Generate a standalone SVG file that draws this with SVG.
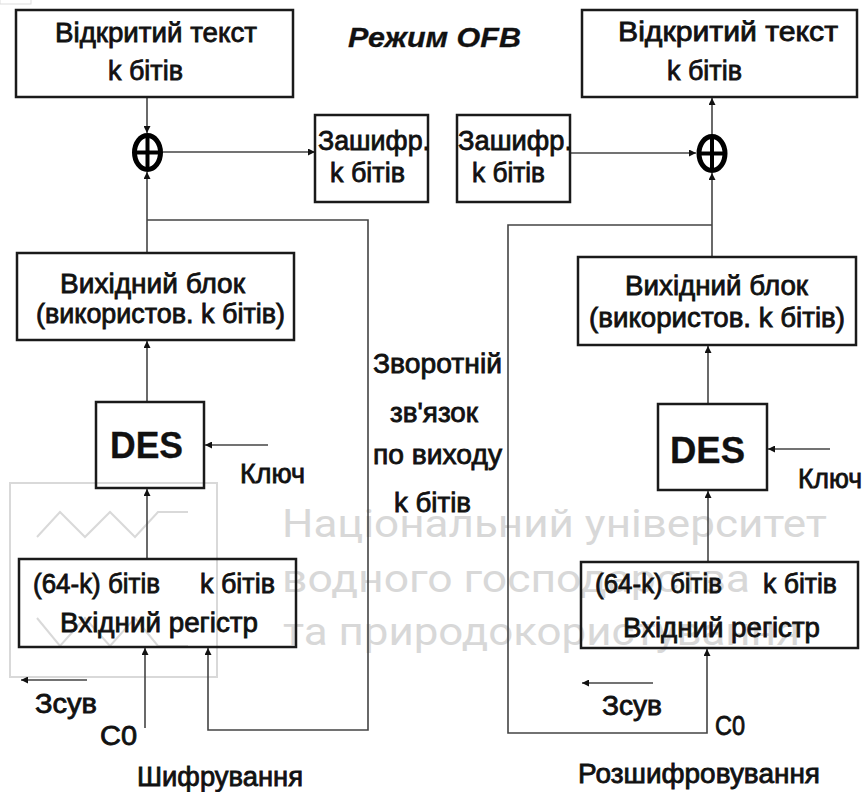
<svg xmlns="http://www.w3.org/2000/svg" width="867" height="792" viewBox="0 0 867 792">
<style>
.box{fill:none;stroke:#1a1a1a;stroke-width:2.5}
.ln{fill:none;stroke:#444;stroke-width:1.6}
.t{font-family:"Liberation Sans",Arial,sans-serif;font-size:27px;fill:#111;stroke:#111;stroke-width:0.8}
.des{font-size:37px;font-weight:bold;stroke-width:0.3}
.ttl{font-style:italic;font-weight:bold;font-size:27px;stroke-width:0.3}
.wm{font-family:Roboto,"Liberation Sans",sans-serif;font-size:38px;fill:#d8d8d8}
.wml{fill:none;stroke:#d9d9d9;stroke-width:2}
.xor{fill:none;stroke:#000;stroke-width:5}
.xc{stroke:#000;stroke-width:4}
</style>
<defs>
<marker id="ah" viewBox="0 0 10 10" refX="10" refY="5" markerWidth="7" markerHeight="7" orient="auto" markerUnits="userSpaceOnUse">
<path d="M0,0 L10,5 L0,10 z" fill="#111"/>
</marker>
</defs>
<rect width="867" height="792" fill="#fff"/>
<rect x="0" y="-1" width="31" height="5" fill="none" stroke="#ddd" stroke-width="1"/>

<g id="watermark">
<rect x="10" y="483" width="207" height="194" class="wml"/>
<polyline class="wml" points="37,537 60,512 85,537 110,512 135,537 158,512 188,512"/>
<polyline class="wml" points="37,618 60,646 85,618 110,646 135,618 158,646 188,646"/>
<text class="wm" x="282" y="537" textLength="545" lengthAdjust="spacingAndGlyphs">Національний університет</text>
<text class="wm" x="282" y="592" textLength="468" lengthAdjust="spacingAndGlyphs">водного господарства</text>
<text class="wm" x="283" y="645" textLength="517" lengthAdjust="spacingAndGlyphs">та природокористування</text>
</g>

<text class="t ttl" x="348" y="47" textLength="173" lengthAdjust="spacingAndGlyphs">Режим OFB</text>

<g id="connectors">
<line class="ln" x1="147" y1="97" x2="147" y2="133" marker-end="url(#ah)"/>
<line class="ln" x1="147" y1="253" x2="147" y2="172" marker-end="url(#ah)"/>
<line class="ln" x1="163" y1="152" x2="315" y2="152" marker-end="url(#ah)"/>
<line class="ln" x1="147" y1="402" x2="147" y2="341" marker-end="url(#ah)"/>
<line class="ln" x1="147" y1="559" x2="147" y2="489" marker-end="url(#ah)"/>
<line class="ln" x1="268" y1="445" x2="205" y2="445" marker-end="url(#ah)"/>
<line class="ln" x1="145" y1="728" x2="145" y2="648" marker-end="url(#ah)"/>
<polyline class="ln" points="147,220 368,220 368,730 208,730 208,648" marker-end="url(#ah)"/>
<line class="ln" x1="87" y1="680" x2="21" y2="680" marker-end="url(#ah)"/>
<line class="ln" x1="712" y1="135" x2="712" y2="98" marker-end="url(#ah)"/>
<line class="ln" x1="712" y1="257" x2="712" y2="173" marker-end="url(#ah)"/>
<line class="ln" x1="570" y1="153" x2="696" y2="153" marker-end="url(#ah)"/>
<line class="ln" x1="708" y1="404" x2="708" y2="346" marker-end="url(#ah)"/>
<line class="ln" x1="708" y1="562" x2="708" y2="491" marker-end="url(#ah)"/>
<line class="ln" x1="830" y1="449" x2="768" y2="449" marker-end="url(#ah)"/>
<polyline class="ln" points="712,225 508,225 508,733 707,733 707,649" marker-end="url(#ah)"/>
<line class="ln" x1="653" y1="683" x2="582" y2="683" marker-end="url(#ah)"/>
</g>

<g id="xor-enc">
<ellipse class="xor" cx="147.5" cy="152.5" rx="13" ry="17"/>
<line class="xc" x1="147.5" y1="136" x2="147.5" y2="169"/>
<line class="xc" x1="135" y1="152.5" x2="160" y2="152.5"/>
</g>
<g id="xor-dec">
<ellipse class="xor" cx="712" cy="153.5" rx="13" ry="17"/>
<line class="xc" x1="712" y1="137" x2="712" y2="170"/>
<line class="xc" x1="699.5" y1="153.5" x2="724.5" y2="153.5"/>
</g>

<g id="plain-enc">
<rect class="box" x="16" y="10" width="277" height="87"/>
<text class="t" x="55" y="42" textLength="202" lengthAdjust="spacingAndGlyphs">Відкритий текст</text>
<text class="t" x="108" y="80" textLength="75" lengthAdjust="spacingAndGlyphs">k бітів</text>
</g>
<g id="cipher-enc">
<rect class="box" x="315" y="115" width="113" height="87"/>
<text class="t" x="318" y="150" textLength="112" lengthAdjust="spacingAndGlyphs">Зашифр.</text>
<text class="t" x="330" y="182" textLength="75" lengthAdjust="spacingAndGlyphs">k бітів</text>
</g>
<g id="out-enc">
<rect class="box" x="17" y="253" width="277" height="87"/>
<text class="t" x="60" y="293" textLength="185" lengthAdjust="spacingAndGlyphs">Вихідний блок</text>
<text class="t" x="36" y="323" textLength="249" lengthAdjust="spacingAndGlyphs">(використов. k бітів)</text>
</g>
<g id="des-enc">
<rect class="box" x="96" y="402" width="108" height="86"/>
<text class="t des" x="110" y="458" textLength="73" lengthAdjust="spacingAndGlyphs">DES</text>
</g>
<g id="key-enc"><text class="t" x="240" y="483" textLength="65" lengthAdjust="spacingAndGlyphs">Ключ</text></g>
<g id="reg-enc">
<rect class="box" x="19" y="559" width="277" height="88"/>
<text class="t" x="33" y="593" textLength="127" lengthAdjust="spacingAndGlyphs">(64-k) бітів</text>
<text class="t" x="200" y="593" textLength="75" lengthAdjust="spacingAndGlyphs">k бітів</text>
<text class="t" x="60" y="632" textLength="198" lengthAdjust="spacingAndGlyphs">Вхідний регістр</text>
</g>
<g id="labels-enc">
<text class="t" x="35" y="713" textLength="62" lengthAdjust="spacingAndGlyphs">Зсув</text>
<text class="t" x="100" y="745" textLength="37" lengthAdjust="spacingAndGlyphs">C0</text>
<text class="t" x="137" y="786" textLength="166" lengthAdjust="spacingAndGlyphs">Шифрування</text>
</g>

<g id="feedback-label">
<text class="t" x="373" y="373" textLength="129" lengthAdjust="spacingAndGlyphs">Зворотній</text>
<text class="t" x="390" y="422" textLength="88" lengthAdjust="spacingAndGlyphs">зв'язок</text>
<text class="t" x="373" y="464" textLength="129" lengthAdjust="spacingAndGlyphs">по виходу</text>
<text class="t" x="394" y="512" textLength="77" lengthAdjust="spacingAndGlyphs">k бітів</text>
</g>

<g id="plain-dec">
<rect class="box" x="582" y="10" width="275" height="87"/>
<text class="t" x="618" y="41" textLength="220" lengthAdjust="spacingAndGlyphs">Відкритий текст</text>
<text class="t" x="667" y="80" textLength="75" lengthAdjust="spacingAndGlyphs">k бітів</text>
</g>
<g id="cipher-dec">
<rect class="box" x="457" y="115" width="113" height="87"/>
<text class="t" x="458" y="150" textLength="114" lengthAdjust="spacingAndGlyphs">Зашифр.</text>
<text class="t" x="472" y="182" textLength="73" lengthAdjust="spacingAndGlyphs">k бітів</text>
</g>
<g id="out-dec">
<rect class="box" x="578" y="257" width="278" height="88"/>
<text class="t" x="625" y="295" textLength="183" lengthAdjust="spacingAndGlyphs">Вихідний блок</text>
<text class="t" x="589" y="327" textLength="256" lengthAdjust="spacingAndGlyphs">(використов. k бітів)</text>
</g>
<g id="des-dec">
<rect class="box" x="658" y="404" width="109" height="86"/>
<text class="t des" x="670" y="463" textLength="75" lengthAdjust="spacingAndGlyphs">DES</text>
</g>
<g id="key-dec"><text class="t" x="798" y="488" textLength="64" lengthAdjust="spacingAndGlyphs">Ключ</text></g>
<g id="reg-dec">
<rect class="box" x="581" y="562" width="277" height="86"/>
<text class="t" x="595" y="593" textLength="127" lengthAdjust="spacingAndGlyphs">(64-k) бітів</text>
<text class="t" x="763" y="593" textLength="74" lengthAdjust="spacingAndGlyphs">k бітів</text>
<text class="t" x="623" y="637" textLength="197" lengthAdjust="spacingAndGlyphs">Вхідний регістр</text>
</g>
<g id="labels-dec">
<text class="t" x="602" y="715" textLength="60" lengthAdjust="spacingAndGlyphs">Зсув</text>
<text class="t" x="715" y="735" textLength="30" lengthAdjust="spacingAndGlyphs">C0</text>
<text class="t" x="578" y="783" textLength="242" lengthAdjust="spacingAndGlyphs">Розшифровування</text>
</g>
</svg>
